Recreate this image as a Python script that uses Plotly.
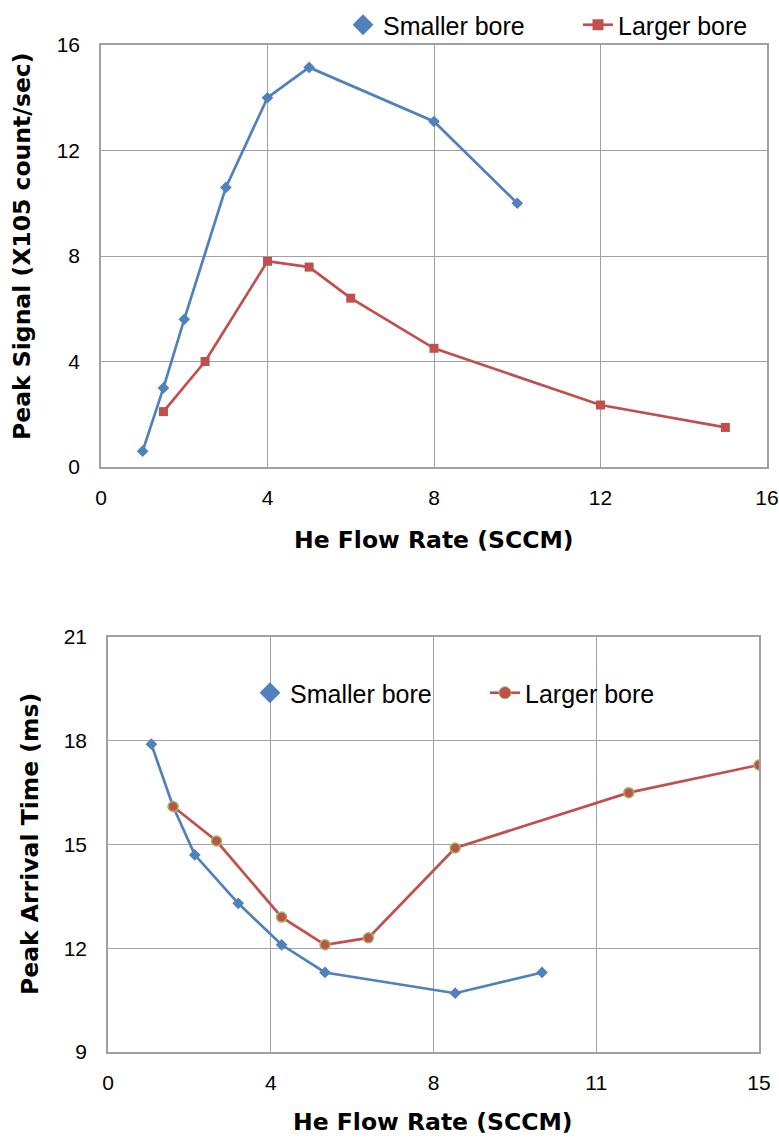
import plotly.graph_objects as go

# ---- data ----
top_small_x = [1, 1.5, 2, 3, 4, 5, 8, 10]
top_small_y = [0.6, 3.0, 5.6, 10.6, 14.0, 15.15, 13.1, 10.0]
top_large_x = [1.5, 2.5, 4, 5, 6, 8, 12, 15]
top_large_y = [2.1, 4.0, 7.8, 7.58, 6.4, 4.5, 2.35, 1.5]

bot_small_x = [1, 1.5, 2, 3, 4, 5, 8, 10]
bot_small_y = [17.9, 16.1, 14.7, 13.3, 12.1, 11.3, 10.7, 11.3]
bot_large_x = [1.5, 2.5, 4, 5, 6, 8, 12, 15]
bot_large_y = [16.1, 15.1, 12.9, 12.1, 12.3, 14.9, 16.5, 17.3]

top_xticks = [0, 4, 8, 12, 16]
top_yticks = [0, 4, 8, 12, 16]
bot_xtickvals = [0, 3.75, 7.5, 11.25, 15]
bot_xticktext = ["0", "4", "8", "11", "15"]
bot_yticks = [9, 12, 15, 18, 21]

BLUE = "#4F81BD"
RED = "#C0504D"
GREEN = "#9BBB59"
GRID = "#A0A0A0"
NARROW = "Liberation Sans Narrow, Liberation Sans, Arial, sans-serif"
TICKFONT = dict(family=NARROW, size=21, color="#000000")
LEGFONT = dict(family=NARROW, size=25, color="#000000")
TITLEFONT = dict(family="DejaVu Sans, Verdana, sans-serif", size=23.5, color="#000000")

W, H = 779, 1138
fig = go.Figure()

# top chart traces
fig.add_trace(go.Scatter(x=top_small_x, y=top_small_y, mode="lines+markers",
                         line=dict(color=BLUE, width=2.7),
                         marker=dict(symbol="diamond", size=9, color=BLUE),
                         showlegend=False, xaxis="x", yaxis="y"))
fig.add_trace(go.Scatter(x=top_large_x, y=top_large_y, mode="lines+markers",
                         line=dict(color=RED, width=2.7),
                         marker=dict(symbol="square", size=9, color=RED),
                         showlegend=False, xaxis="x", yaxis="y"))
# legend entries top
fig.add_trace(go.Scatter(x=[None], y=[None], mode="markers", name="Smaller bore",
                         marker=dict(symbol="diamond", size=17, color=BLUE),
                         legend="legend", xaxis="x", yaxis="y"))
fig.add_trace(go.Scatter(x=[None], y=[None], mode="lines+markers", name="Larger bore",
                         line=dict(color=RED, width=2.7),
                         marker=dict(symbol="square", size=11, color=RED),
                         legend="legend2", xaxis="x", yaxis="y"))

# bottom chart traces
fig.add_trace(go.Scatter(x=bot_small_x, y=bot_small_y, mode="lines+markers",
                         line=dict(color=BLUE, width=2.7),
                         marker=dict(symbol="diamond", size=9, color=BLUE),
                         showlegend=False, xaxis="x2", yaxis="y2"))
fig.add_trace(go.Scatter(x=bot_large_x, y=bot_large_y, mode="lines+markers",
                         line=dict(color=RED, width=2.7),
                         marker=dict(symbol="circle", size=10, color=RED,
                                     line=dict(color=GREEN, width=1.5)),
                         showlegend=False, xaxis="x2", yaxis="y2"))
fig.add_trace(go.Scatter(x=[None], y=[None], mode="markers", name="Smaller bore",
                         marker=dict(symbol="diamond", size=17, color=BLUE),
                         legend="legend3", xaxis="x2", yaxis="y2"))
fig.add_trace(go.Scatter(x=[None], y=[None], mode="lines+markers", name="Larger bore",
                         line=dict(color=RED, width=2.7),
                         marker=dict(symbol="circle", size=12, color=RED,
                                     line=dict(color=GREEN, width=1)),
                         legend="legend4", xaxis="x2", yaxis="y2"))

axis_common = dict(showgrid=True, gridcolor=GRID, gridwidth=1.3, showline=True,
                   linecolor=GRID, linewidth=1.5, mirror=True, ticks="",
                   zeroline=False, tickfont=TICKFONT, fixedrange=True, automargin=False,
                   ticklabeloverflow="allow")


def leg(xpx, ypx):
    return dict(orientation="h", x=xpx / W, y=1 - ypx / H, xanchor="left", yanchor="middle",
                font=LEGFONT, bgcolor="rgba(0,0,0,0)", borderwidth=0,
                itemclick=False, itemdoubleclick=False)


fig.update_layout(
    width=W, height=H,
    margin=dict(l=0, r=0, t=0, b=0, autoexpand=False),
    paper_bgcolor="white", plot_bgcolor="white",
    xaxis=dict(domain=[101 / W, 767 / W], range=[0, 16], tickvals=top_xticks,
               anchor="y", ticklabelstandoff=11, **axis_common),
    yaxis=dict(domain=[1 - 467 / H, 1 - 45 / H], range=[0, 16], tickvals=top_yticks,
               anchor="x", ticklabelstandoff=15, **axis_common),
    xaxis2=dict(domain=[108 / W, 759 / W], range=[0, 15], tickvals=bot_xtickvals,
                ticktext=bot_xticktext, anchor="y2", ticklabelstandoff=11, **axis_common),
    yaxis2=dict(domain=[1 - 1052 / H, 1 - 637 / H], range=[9, 21], tickvals=bot_yticks,
                anchor="x2", ticklabelstandoff=15, **axis_common),
    legend=leg(343, 25),
    legend2=leg(578, 25),
    legend3=leg(250, 693),
    legend4=leg(485, 693),
    annotations=[
        dict(text="<b>He Flow Rate (SCCM)</b>", x=434 / W, y=1 - 540 / H, xref="paper", yref="paper",
             xanchor="center", yanchor="middle", showarrow=False, font=TITLEFONT),
        dict(text="<b>Peak Signal (X105 count/sec)</b>", x=22 / W, y=1 - 246 / H, xref="paper",
             yref="paper", xanchor="center", yanchor="middle", showarrow=False, textangle=-90,
             font=TITLEFONT),
        dict(text="<b>He Flow Rate (SCCM)</b>", x=433 / W, y=1 - 1122 / H, xref="paper", yref="paper",
             xanchor="center", yanchor="middle", showarrow=False, font=TITLEFONT),
        dict(text="<b>Peak Arrival Time (ms)</b>", x=30 / W, y=1 - 844 / H, xref="paper",
             yref="paper", xanchor="center", yanchor="middle", showarrow=False, textangle=-90,
             font=TITLEFONT),
    ],
)

fig.write_html("out.html")
